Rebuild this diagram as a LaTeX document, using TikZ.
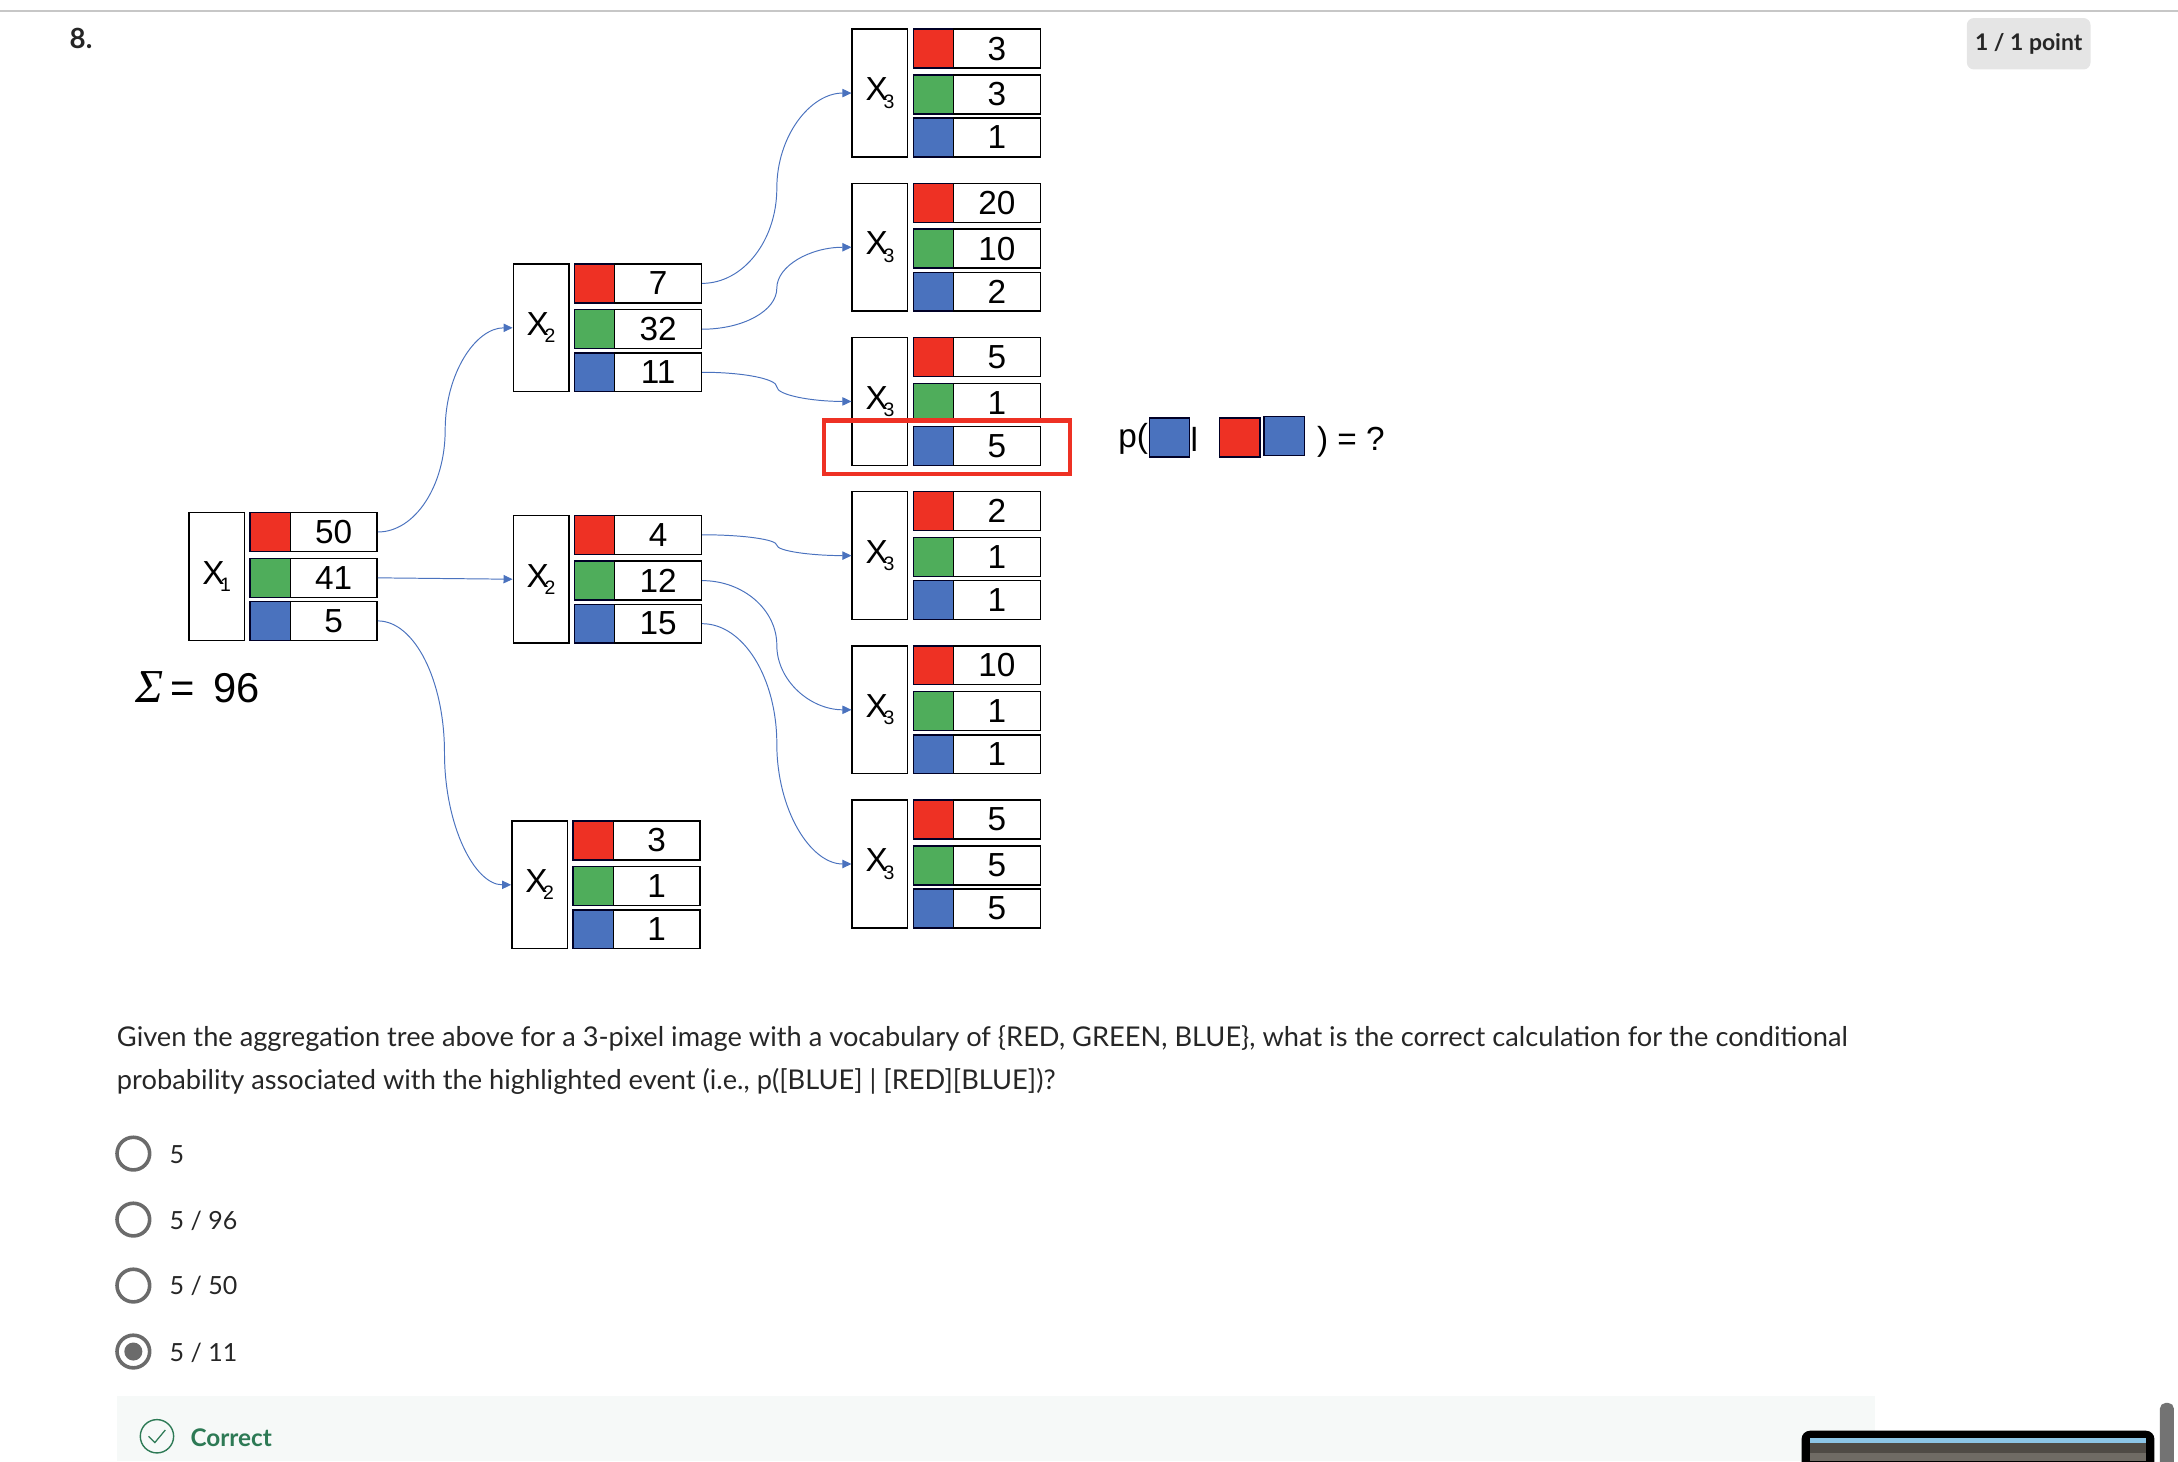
\documentclass[tikz,border=0pt]{standalone}
\usepackage{fontspec}
\setmainfont{Lato}
\newfontfamily\arial{Liberation Sans}
\newfontfamily\timesit{Liberation Serif}[ItalicFont=* Italic]
\usetikzlibrary{arrows.meta,calc}

\definecolor{cellred}{HTML}{EE3124}
\definecolor{cellgreen}{HTML}{4FAD5B}
\definecolor{cellblue}{HTML}{4A72BE}
\definecolor{linkblue}{HTML}{4A72BE}
\definecolor{radiogray}{HTML}{6B6B6B}
\definecolor{correctgreen}{HTML}{2D7A55}
\definecolor{thumbdark}{HTML}{4F4B45}
\definecolor{thumbmid}{HTML}{6F6B64}
\definecolor{thumbsky}{HTML}{8CC5E6}
\definecolor{correctbg}{HTML}{F6F9F8}

\tikzset{
    xbox/.style={draw=black, line width=1pt, fill=white, minimum width=40pt, minimum height=92pt, inner sep=0pt, anchor=north west},
    swatch/.style={draw=black!85!blue, line width=1pt, minimum width=29pt, minimum height=28pt, inner sep=0pt, anchor=north west},
    valuebox/.style={draw=black, line width=1pt, fill=white, minimum width=62.5pt, minimum height=28pt, inner sep=0pt, anchor=north west, font=\arial\fontsize{24}{24}\selectfont},
    link/.style={draw=linkblue, line width=0.7pt, -{Triangle[length=6.5pt,width=6pt]}},
    radio/.style={circle, draw=radiogray, line width=2.6pt, minimum size=23.5pt, inner sep=0pt},
    optiontext/.style={anchor=west, inner sep=0pt, text=black!85, font=\fontsize{18}{18}\selectfont},
}

% one variable: its box, then three rows of colour and count
\newcommand{\xgroup}[7]{
    \node[xbox] (#1) at (#2,#3) {\arial\fontsize{24}{24}\selectfont X\kern-0.13em\raisebox{-0.22em}{\fontsize{14}{14}\selectfont #4}};
    \node[swatch, fill=cellred] (#1r) at ({#2+44},{#3}) {};
    \node[valuebox] (#1rv) at ({#2+73},{#3}) {#5};
    \node[swatch, fill=cellgreen] (#1g) at ({#2+44},{#3+33}) {};
    \node[valuebox] (#1gv) at ({#2+73},{#3+33}) {#6};
    \node[swatch, fill=cellblue] (#1b) at ({#2+44},{#3+64}) {};
    \node[valuebox] (#1bv) at ({#2+73},{#3+64}) {#7};
}

% curved connector: out flat, upright half way, in flat
\newcommand{\curvelink}[2]{
    \draw[link] let \p1=(#1.east), \p2=(#2.west), \p3=($(#1.east)!.5!(#2.west)$) in
        (#1.east) .. controls ({\x1+0.55*(\x3-\x1)},\y1) and (\x3,{\y1+0.45*(\y3-\y1)}) .. (\x3,\y3)
        .. controls (\x3,{\y3+0.55*(\y2-\y3)}) and ({\x3+0.45*(\x2-\x3)},\y2) .. (#2.west);
}

\begin{document}
\begin{tikzpicture}[x=1pt, y=-1pt]
    \useasboundingbox (0,0) rectangle (1568,1052);

    \draw[black!22, line width=1pt] (0,8) -- (1568,8);
    \node[anchor=west, inner sep=0pt, font=\bfseries\fontsize{20}{20}\selectfont, text=black!85] (qnum) at (50,28) {8.};
    \node[fill=black!10, rounded corners=5pt, minimum width=89pt, minimum height=37pt, inner sep=0pt, font=\bfseries\fontsize{16.5}{16.5}\selectfont, text=black!85] (points) at (1460.5,31.5) {\raisebox{-2pt}{1 / 1 point}};

    \xgroup{xone}{135.5}{368.5}{1}{50}{41}{5}
    \xgroup{xtwoa}{369}{189.5}{2}{7}{32}{11}
    \xgroup{xtwob}{369}{370.5}{2}{4}{12}{15}
    \xgroup{xtwoc}{368}{590.5}{2}{3}{1}{1}
    \xgroup{xthreea}{613}{20.5}{3}{3}{3}{1}
    \xgroup{xthreeb}{613}{131.5}{3}{20}{10}{2}
    \xgroup{xthreec}{613}{242.5}{3}{5}{1}{5}
    \xgroup{xthreed}{613}{353.5}{3}{2}{1}{1}
    \xgroup{xthreee}{613}{464.5}{3}{10}{1}{1}
    \xgroup{xthreef}{613}{575.5}{3}{5}{5}{5}

    \curvelink{xonerv}{xtwoa}
    \draw[link] (xonegv.east) -- (xtwob.west);
    \curvelink{xonebv}{xtwoc}
    \curvelink{xtwoarv}{xthreea}
    \curvelink{xtwoagv}{xthreeb}
    \curvelink{xtwoabv}{xthreec}
    \curvelink{xtwobrv}{xthreed}
    \curvelink{xtwobgv}{xthreee}
    \curvelink{xtwobbv}{xthreef}

    \node[draw=cellred, line width=3pt, minimum width=177pt, minimum height=38.5pt, inner sep=0pt] (highlight) at (682,322) {};

    \node[anchor=west, inner sep=0pt, font=\arial\fontsize{30}{30}\selectfont] (total) at (97,495) {{\timesit\itshape\fontsize{34}{34}\selectfont Σ}\kern5pt=\kern14pt 96};

    \node[anchor=west, inner sep=0pt, font=\arial\fontsize{24}{24}\selectfont] (popen) at (805,316) {p(};
    \node[swatch, fill=cellblue, anchor=center] (pblue) at (842,315) {};
    \node[anchor=west, inner sep=0pt, font=\arial\fontsize{24}{24}\selectfont] (pbar) at (857,316) {l};
    \node[swatch, fill=cellred, anchor=center] (pred) at (892.5,315) {};
    \node[swatch, fill=cellblue, anchor=center] (pblueb) at (924.5,314) {};
    \node[anchor=west, inner sep=0pt, font=\arial\fontsize{24}{24}\selectfont] (pclose) at (948,318) {) = ?};

    \node[anchor=west, inner sep=0pt, align=left, text=black!85, font=\fontsize{19.6}{31}\selectfont] (question) at (84,763) {Given the aggregation tree above for a 3-pixel image with a vocabulary of \{RED, GREEN, BLUE\}, what is the correct calculation for the conditional\\probability associated with the highlighted event (i.e., p([BLUE] | [RED][BLUE])?};

    \node[radio] (optiona) at (96,830.5) {};
    \node[optiontext] (labela) at (122,831) {5};
    \node[radio] (optionb) at (96,878) {};
    \node[optiontext] (labelb) at (122,879) {5 / 96};
    \node[radio] (optionc) at (96,925.5) {};
    \node[optiontext] (labelc) at (122,926) {5 / 50};
    \node[radio] (optiond) at (96,973) {};
    \node[circle, fill=radiogray, minimum size=13pt, inner sep=0pt] (optiondot) at (96,973) {};
    \node[optiontext] (labeld) at (122,974) {5 / 11};

    \fill[correctbg] (84,1005) rectangle (1350,1052);
    \node[circle, draw=correctgreen, line width=1pt, minimum size=24pt, inner sep=0pt] (tick) at (113,1034) {};
    \draw[correctgreen, line width=0.9pt] (107,1034) -- (111.5,1038.5) -- (119,1029.5);
    \node[anchor=west, inner sep=0pt, text=correctgreen, font=\bfseries\fontsize{17.5}{17.5}\selectfont] (correct) at (137,1035) {Correct};

    % thumbnail in the corner
    \fill[black, rounded corners=6pt] (1297,1030) rectangle (1551,1060);
    \fill[thumbdark] (1303,1038.5) rectangle (1545,1046);
    \fill[thumbmid] (1303,1046) rectangle (1545,1052);
    \fill[thumbsky] (1303,1035.5) rectangle (1545,1038.5);
    \fill[black!55, rounded corners=4pt] (1555,1010) rectangle (1565,1060);
\end{tikzpicture}
\end{document}
